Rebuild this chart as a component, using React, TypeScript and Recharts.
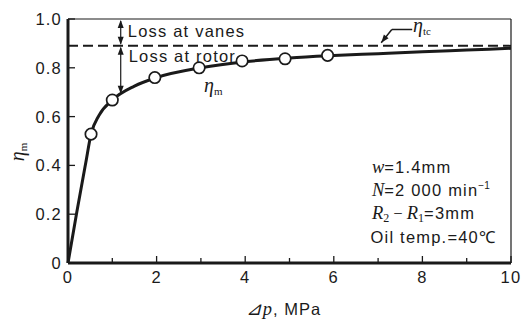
import React from "react";
import {
  ComposedChart,
  Line,
  Scatter,
  XAxis,
  YAxis,
  ReferenceLine,
  ReferenceDot,
} from "recharts";

// fitted efficiency curve
const curveX = [0, 0.2, 0.4, 0.52, 0.7, 1.0, 1.5, 2, 3, 4, 5, 6, 7, 8, 9, 10];
const curveY = [0, 0.21, 0.41, 0.528, 0.605, 0.668, 0.725, 0.76, 0.8, 0.825, 0.84, 0.85, 0.858, 0.866, 0.873, 0.88];

// measured points
const pointX = [0.52, 1.0, 1.96, 2.96, 3.93, 4.9, 5.86];
const pointY = [0.528, 0.668, 0.76, 0.8, 0.828, 0.837, 0.851];

const xTicks = [0, 1, 2, 3, 4, 5, 6, 7, 8, 9, 10];
const yTicks = [0, 0.2, 0.4, 0.6, 0.8, 1.0];

const etaTc = 0.89;
const lossX = 1.19;
const rotorLossEnd = 0.69;

const SANS = "'Liberation Sans', Arial, sans-serif";
const SERIF = "'Liberation Serif', 'Times New Roman', serif";
const INK = "#1a1a1a";

const curve = curveX.map((x, i) => ({ x, y: curveY[i] }));
const points = pointX.map((x, i) => ({ x, y: pointY[i] }));

const head = (x1: number, y1: number, x2: number, y2: number) => {
  // triangle with its tip at (x2, y2)
  const dx = x2 - x1;
  const dy = y2 - y1;
  const len = Math.hypot(dx, dy) || 1;
  const ux = dx / len;
  const uy = dy / len;
  const L = 8;
  const W = 3;
  const bx = x2 - ux * L;
  const by = y2 - uy * L;
  return `${x2},${y2} ${bx - uy * W},${by + ux * W} ${bx + uy * W},${by - ux * W}`;
};

const DoubleArrow = (p: any) => (
  <g>
    <line x1={p.x1} y1={p.y1 + 2} x2={p.x2} y2={p.y2 - 2} stroke={INK} strokeWidth={1.2} />
    <polygon points={head(p.x2, p.y2, p.x1, p.y1 + 1)} fill={INK} />
    <polygon points={head(p.x1, p.y1, p.x2, p.y2 - 1)} fill={INK} />
  </g>
);

const PlainSeg = (p: any) => (
  <line x1={p.x1} y1={p.y1} x2={p.x2} y2={p.y2} stroke={INK} strokeWidth={1.5} />
);

const ArrowSeg = (p: any) => (
  <g>
    <line x1={p.x1} y1={p.y1} x2={p.x2} y2={p.y2} stroke={INK} strokeWidth={1.5} />
    <polygon points={head(p.x1, p.y1, p.x2, p.y2)} fill={INK} />
  </g>
);

const XTick = (props: any) => {
  const { x, y, payload } = props;
  const v = payload.value;
  const major = v % 2 === 0;
  return (
    <g>
      <line x1={x} y1={y} x2={x} y2={y - (major ? 7 : 5)} stroke={INK} strokeWidth={1.3} />
      {major && (
        <text x={x} y={y + 20} textAnchor="middle" fontFamily={SANS} fontSize={16.5} letterSpacing={1.2} fill={INK}>
          {v}
        </text>
      )}
    </g>
  );
};

const YTick = (props: any) => {
  const { x, y, payload } = props;
  const v = payload.value;
  return (
    <g>
      <line x1={x} y1={y} x2={x + 7} y2={y} stroke={INK} strokeWidth={1.3} />
      <text x={x - 6} y={y + 6} textAnchor="end" fontFamily={SANS} fontSize={16.5} letterSpacing={1.2} fill={INK}>
        {v === 0 ? "0" : v.toFixed(1)}
      </text>
    </g>
  );
};

const Circle = (props: any) => (
  <circle cx={props.cx} cy={props.cy} r={5.7} fill="#fff" stroke={INK} strokeWidth={1.7} />
);

const note = (content: React.ReactNode) => (p: any) => (
  <text x={p.cx} y={p.cy} fontFamily={SANS} fontSize={16.5} letterSpacing={1.2} fill={INK}>
    {content}
  </text>
);

const eta = (sub: string, size = 20) => (
  <>
    <tspan fontFamily={SERIF} fontStyle="italic" fontSize={size} letterSpacing={0}>
      η
    </tspan>
    <tspan fontFamily={SERIF} fontSize={size * 0.55} dy={3} letterSpacing={0}>
      {sub}
    </tspan>
  </>
);

const it = (s: string) => (
  <tspan fontFamily={SERIF} fontStyle="italic" fontSize={18.5} letterSpacing={0}>
    {s}
  </tspan>
);

const XTitle = (props: any) => {
  const { x, y, width } = props.viewBox;
  return (
    <text x={x + width / 2 - 6} y={y + 52} textAnchor="middle" fontFamily={SANS} fontSize={16.5} letterSpacing={1} fill={INK}>
      <tspan fontFamily={SERIF} fontStyle="italic" fontSize={18.5}>⊿p</tspan>
      <tspan>, MPa</tspan>
    </text>
  );
};

const YTitle = () => (
  <text x={0} y={0} transform="translate(24 152) rotate(-90)" textAnchor="middle" fill={INK}>
    {eta("m", 20)}
  </text>
);

export default function App() {
  return (
    <div style={{ position: "absolute", left: 0, top: 0, background: "#fff" }}>
      <ComposedChart width={523} height={320} margin={{ top: 19, right: 12, left: 0, bottom: 0 }}>
        <XAxis
          dataKey="x"
          type="number"
          domain={[0, 10]}
          ticks={xTicks}
          interval={0}
          tickSize={0}
          tickMargin={0}
          tickLine={false}
          tick={<XTick />}
          axisLine={{ stroke: INK, strokeWidth: 3 }}
          height={57}
          label={{ content: <XTitle /> }}
        />
        <YAxis
          type="number"
          domain={[0, 1]}
          ticks={yTicks}
          interval={0}
          tickSize={0}
          tickMargin={0}
          tickLine={false}
          tick={<YTick />}
          axisLine={{ stroke: INK, strokeWidth: 3 }}
          width={68}
          label={{ content: <YTitle /> }}
        />
        <ReferenceLine y={1} stroke={INK} strokeWidth={1.2} />
        <ReferenceLine x={10} stroke={INK} strokeWidth={1.2} />
        <ReferenceLine y={etaTc} stroke={INK} strokeWidth={2} strokeDasharray="10 5" />

        <Line
          data={curve}
          dataKey="y"
          type="monotone"
          stroke={INK}
          strokeWidth={3}
          dot={false}
          isAnimationActive={false}
        />
        <Scatter data={points} dataKey="y" shape={<Circle />} isAnimationActive={false} />

        <ReferenceLine
          segment={[{ x: lossX, y: 1 }, { x: lossX, y: etaTc }]}
          shape={DoubleArrow}
        />
        <ReferenceLine
          segment={[{ x: lossX, y: etaTc }, { x: lossX, y: rotorLossEnd }]}
          shape={DoubleArrow}
        />
        <ReferenceLine segment={[{ x: 7.77, y: 0.957 }, { x: 7.31, y: 0.957 }]} shape={PlainSeg} />
        <ReferenceLine segment={[{ x: 7.31, y: 0.957 }, { x: 7.07, y: 0.903 }]} shape={ArrowSeg} />

        <ReferenceDot x={1.35} y={0.928} r={0} shape={note("Loss at vanes")} />
        <ReferenceDot x={1.37} y={0.825} r={0} shape={note("Loss at rotor")} />
        <ReferenceDot x={3.07} y={0.7} r={0} shape={note(eta("m"))} />
        <ReferenceDot x={7.79} y={0.945} r={0} shape={note(eta("tc"))} />

        <ReferenceDot x={6.86} y={0.367} r={0} shape={note(<>{it("w")}=1.4mm</>)} />
        <ReferenceDot
          x={6.86}
          y={0.276}
          r={0}
          shape={note(
            <>
              {it("N")}=2 000 min
              <tspan fontSize={10} dy={-7} letterSpacing={0}>−1</tspan>
            </>
          )}
        />
        <ReferenceDot
          x={6.86}
          y={0.181}
          r={0}
          shape={note(
            <>
              {it("R")}
              <tspan fontFamily={SERIF} fontSize={12} dy={3} letterSpacing={0}>2</tspan>
              <tspan fontFamily={SERIF} dy={-3} letterSpacing={0}> − </tspan>
              {it("R")}
              <tspan fontFamily={SERIF} fontSize={12} dy={3} letterSpacing={0}>1</tspan>
              <tspan dy={-3}>=3mm</tspan>
            </>
          )}
        />
        <ReferenceDot x={6.83} y={0.082} r={0} shape={note("Oil temp.=40℃")} />
      </ComposedChart>
    </div>
  );
}
